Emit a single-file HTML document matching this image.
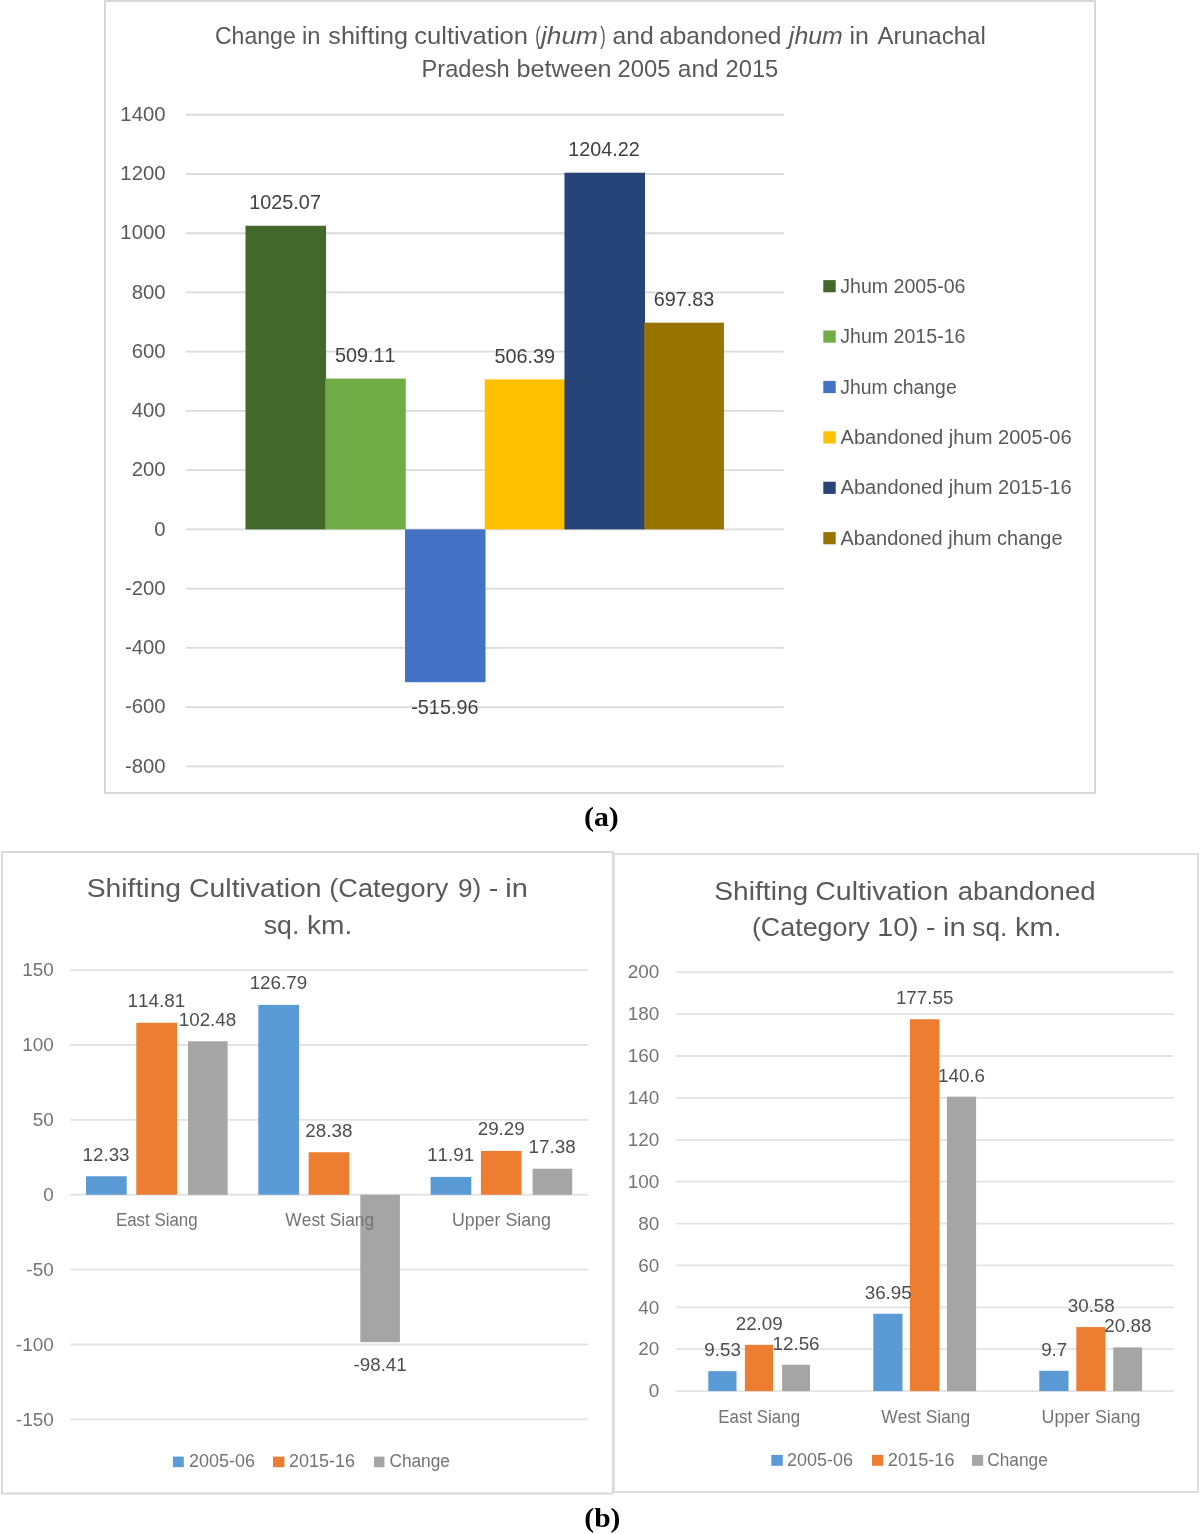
<!DOCTYPE html>
<html><head><meta charset="utf-8"><style>
html,body{margin:0;padding:0;background:#fff;}
body{width:1200px;height:1534px;overflow:hidden;}
svg{display:block;font-kerning:none;will-change:transform;-webkit-font-smoothing:antialiased;}
text{font-kerning:none;}
</style></head><body>
<svg width="1200" height="1534" viewBox="0 0 1200 1534">
<rect x="0" y="0" width="1200" height="1534" fill="#ffffff"/>
<rect x="105" y="1" width="990" height="792" fill="none" stroke="#D9D9D9" stroke-width="2"/>
<text x="214.93" y="44.30" font-size="24.2" fill="#595959" font-style="normal" font-weight="normal" font-family='"Liberation Sans", sans-serif' textLength="80.80" lengthAdjust="spacingAndGlyphs" xml:space="preserve">Change</text>
<text x="302.02" y="44.30" font-size="24.2" fill="#595959" font-style="normal" font-weight="normal" font-family='"Liberation Sans", sans-serif' textLength="18.42" lengthAdjust="spacingAndGlyphs" xml:space="preserve">in</text>
<text x="328.30" y="44.30" font-size="24.2" fill="#595959" font-style="normal" font-weight="normal" font-family='"Liberation Sans", sans-serif' textLength="79.72" lengthAdjust="spacingAndGlyphs" xml:space="preserve">shifting</text>
<text x="414.21" y="44.30" font-size="24.2" fill="#595959" font-style="normal" font-weight="normal" font-family='"Liberation Sans", sans-serif' textLength="113.85" lengthAdjust="spacingAndGlyphs" xml:space="preserve">cultivation</text>
<text x="535.27" y="44.30" font-size="24.2" fill="#595959" font-style="normal" font-weight="normal" font-family='"Liberation Sans", sans-serif' textLength="5.53" lengthAdjust="spacingAndGlyphs" xml:space="preserve">(</text>
<text x="541.04" y="44.30" font-size="24.2" fill="#595959" font-style="italic" font-weight="normal" font-family='"Liberation Sans", sans-serif' textLength="56.98" lengthAdjust="spacingAndGlyphs" xml:space="preserve">jhum</text>
<text x="600.30" y="44.30" font-size="24.2" fill="#595959" font-style="normal" font-weight="normal" font-family='"Liberation Sans", sans-serif' textLength="5.40" lengthAdjust="spacingAndGlyphs" xml:space="preserve">)</text>
<text x="612.55" y="44.30" font-size="24.2" fill="#595959" font-style="normal" font-weight="normal" font-family='"Liberation Sans", sans-serif' textLength="41.24" lengthAdjust="spacingAndGlyphs" xml:space="preserve">and</text>
<text x="659.26" y="44.30" font-size="24.2" fill="#595959" font-style="normal" font-weight="normal" font-family='"Liberation Sans", sans-serif' textLength="122.01" lengthAdjust="spacingAndGlyphs" xml:space="preserve">abandoned</text>
<text x="788.88" y="44.30" font-size="24.2" fill="#595959" font-style="italic" font-weight="normal" font-family='"Liberation Sans", sans-serif' textLength="53.97" lengthAdjust="spacingAndGlyphs" xml:space="preserve">jhum</text>
<text x="849.53" y="44.30" font-size="24.2" fill="#595959" font-style="normal" font-weight="normal" font-family='"Liberation Sans", sans-serif' textLength="19.38" lengthAdjust="spacingAndGlyphs" xml:space="preserve">in</text>
<text x="877.45" y="44.30" font-size="24.2" fill="#595959" font-style="normal" font-weight="normal" font-family='"Liberation Sans", sans-serif' textLength="108.36" lengthAdjust="spacingAndGlyphs" xml:space="preserve">Arunachal</text>
<text x="421.56" y="77.00" font-size="24.2" fill="#595959" font-style="normal" font-weight="normal" font-family='"Liberation Sans", sans-serif' textLength="88.08" lengthAdjust="spacingAndGlyphs" xml:space="preserve">Pradesh</text>
<text x="516.48" y="77.00" font-size="24.2" fill="#595959" font-style="normal" font-weight="normal" font-family='"Liberation Sans", sans-serif' textLength="95.16" lengthAdjust="spacingAndGlyphs" xml:space="preserve">between</text>
<text x="617.60" y="77.00" font-size="24.2" fill="#595959" font-style="normal" font-weight="normal" font-family='"Liberation Sans", sans-serif' textLength="53.00" lengthAdjust="spacingAndGlyphs" xml:space="preserve">2005</text>
<text x="677.86" y="77.00" font-size="24.2" fill="#595959" font-style="normal" font-weight="normal" font-family='"Liberation Sans", sans-serif' textLength="40.82" lengthAdjust="spacingAndGlyphs" xml:space="preserve">and</text>
<text x="725.51" y="77.00" font-size="24.2" fill="#595959" font-style="normal" font-weight="normal" font-family='"Liberation Sans", sans-serif' textLength="52.79" lengthAdjust="spacingAndGlyphs" xml:space="preserve">2015</text>
<line x1="185.70" y1="114.70" x2="783.75" y2="114.70" stroke="#DBDBDB" stroke-width="1.9"/>
<text x="120.38" y="120.90" font-size="19.5" fill="#595959" font-style="normal" font-weight="normal" font-family='"Liberation Sans", sans-serif' textLength="45.12" lengthAdjust="spacingAndGlyphs" xml:space="preserve">1400</text>
<line x1="185.70" y1="173.94" x2="783.75" y2="173.94" stroke="#DBDBDB" stroke-width="1.9"/>
<text x="120.38" y="180.14" font-size="19.5" fill="#595959" font-style="normal" font-weight="normal" font-family='"Liberation Sans", sans-serif' textLength="45.12" lengthAdjust="spacingAndGlyphs" xml:space="preserve">1200</text>
<line x1="185.70" y1="233.18" x2="783.75" y2="233.18" stroke="#DBDBDB" stroke-width="1.9"/>
<text x="120.38" y="239.38" font-size="19.5" fill="#595959" font-style="normal" font-weight="normal" font-family='"Liberation Sans", sans-serif' textLength="45.12" lengthAdjust="spacingAndGlyphs" xml:space="preserve">1000</text>
<line x1="185.70" y1="292.42" x2="783.75" y2="292.42" stroke="#DBDBDB" stroke-width="1.9"/>
<text x="131.66" y="298.62" font-size="19.5" fill="#595959" font-style="normal" font-weight="normal" font-family='"Liberation Sans", sans-serif' textLength="33.84" lengthAdjust="spacingAndGlyphs" xml:space="preserve">800</text>
<line x1="185.70" y1="351.66" x2="783.75" y2="351.66" stroke="#DBDBDB" stroke-width="1.9"/>
<text x="131.66" y="357.86" font-size="19.5" fill="#595959" font-style="normal" font-weight="normal" font-family='"Liberation Sans", sans-serif' textLength="33.84" lengthAdjust="spacingAndGlyphs" xml:space="preserve">600</text>
<line x1="185.70" y1="410.90" x2="783.75" y2="410.90" stroke="#DBDBDB" stroke-width="1.9"/>
<text x="131.66" y="417.10" font-size="19.5" fill="#595959" font-style="normal" font-weight="normal" font-family='"Liberation Sans", sans-serif' textLength="33.84" lengthAdjust="spacingAndGlyphs" xml:space="preserve">400</text>
<line x1="185.70" y1="470.14" x2="783.75" y2="470.14" stroke="#DBDBDB" stroke-width="1.9"/>
<text x="131.66" y="476.34" font-size="19.5" fill="#595959" font-style="normal" font-weight="normal" font-family='"Liberation Sans", sans-serif' textLength="33.84" lengthAdjust="spacingAndGlyphs" xml:space="preserve">200</text>
<line x1="185.70" y1="529.38" x2="783.75" y2="529.38" stroke="#DBDBDB" stroke-width="1.9"/>
<text x="154.21" y="535.58" font-size="19.5" fill="#595959" font-style="normal" font-weight="normal" font-family='"Liberation Sans", sans-serif' textLength="11.28" lengthAdjust="spacingAndGlyphs" xml:space="preserve">0</text>
<line x1="185.70" y1="588.62" x2="783.75" y2="588.62" stroke="#DBDBDB" stroke-width="1.9"/>
<text x="124.90" y="594.82" font-size="19.5" fill="#595959" font-style="normal" font-weight="normal" font-family='"Liberation Sans", sans-serif' textLength="40.59" lengthAdjust="spacingAndGlyphs" xml:space="preserve">-200</text>
<line x1="185.70" y1="647.86" x2="783.75" y2="647.86" stroke="#DBDBDB" stroke-width="1.9"/>
<text x="124.90" y="654.06" font-size="19.5" fill="#595959" font-style="normal" font-weight="normal" font-family='"Liberation Sans", sans-serif' textLength="40.59" lengthAdjust="spacingAndGlyphs" xml:space="preserve">-400</text>
<line x1="185.70" y1="707.10" x2="783.75" y2="707.10" stroke="#DBDBDB" stroke-width="1.9"/>
<text x="124.90" y="713.30" font-size="19.5" fill="#595959" font-style="normal" font-weight="normal" font-family='"Liberation Sans", sans-serif' textLength="40.59" lengthAdjust="spacingAndGlyphs" xml:space="preserve">-600</text>
<line x1="185.70" y1="766.34" x2="783.75" y2="766.34" stroke="#DBDBDB" stroke-width="1.9"/>
<text x="124.90" y="772.54" font-size="19.5" fill="#595959" font-style="normal" font-weight="normal" font-family='"Liberation Sans", sans-serif' textLength="40.59" lengthAdjust="spacingAndGlyphs" xml:space="preserve">-800</text>
<rect x="245.50" y="225.75" width="80.54" height="303.63" fill="#43682B"/>
<rect x="325.25" y="378.58" width="80.54" height="150.80" fill="#70AD47"/>
<rect x="404.99" y="529.38" width="80.54" height="152.83" fill="#4472C4"/>
<rect x="484.72" y="379.39" width="80.54" height="149.99" fill="#FFC000"/>
<rect x="564.46" y="172.69" width="80.54" height="356.69" fill="#264478"/>
<rect x="644.20" y="322.68" width="79.74" height="206.70" fill="#997300"/>
<text x="249.33" y="209.25" font-size="19.8" fill="#404040" font-style="normal" font-weight="normal" font-family='"Liberation Sans", sans-serif' textLength="71.57" lengthAdjust="spacingAndGlyphs" xml:space="preserve">1025.07</text>
<text x="334.92" y="362.08" font-size="19.8" fill="#404040" font-style="normal" font-weight="normal" font-family='"Liberation Sans", sans-serif' textLength="60.56" lengthAdjust="spacingAndGlyphs" xml:space="preserve">509.11</text>
<text x="411.27" y="714.01" font-size="19.8" fill="#404040" font-style="normal" font-weight="normal" font-family='"Liberation Sans", sans-serif' textLength="67.15" lengthAdjust="spacingAndGlyphs" xml:space="preserve">-515.96</text>
<text x="494.39" y="362.89" font-size="19.8" fill="#404040" font-style="normal" font-weight="normal" font-family='"Liberation Sans", sans-serif' textLength="60.56" lengthAdjust="spacingAndGlyphs" xml:space="preserve">506.39</text>
<text x="568.29" y="156.19" font-size="19.8" fill="#404040" font-style="normal" font-weight="normal" font-family='"Liberation Sans", sans-serif' textLength="71.57" lengthAdjust="spacingAndGlyphs" xml:space="preserve">1204.22</text>
<text x="653.73" y="306.18" font-size="19.8" fill="#404040" font-style="normal" font-weight="normal" font-family='"Liberation Sans", sans-serif' textLength="60.56" lengthAdjust="spacingAndGlyphs" xml:space="preserve">697.83</text>
<rect x="823.30" y="280.10" width="12.40" height="12.20" fill="#43682B"/>
<text x="840.29" y="292.80" font-size="20.0" fill="#595959" font-style="normal" font-weight="normal" font-family='"Liberation Sans", sans-serif' textLength="125.17" lengthAdjust="spacingAndGlyphs" xml:space="preserve">Jhum 2005-06</text>
<rect x="823.30" y="330.50" width="12.40" height="12.20" fill="#70AD47"/>
<text x="840.29" y="343.20" font-size="20.0" fill="#595959" font-style="normal" font-weight="normal" font-family='"Liberation Sans", sans-serif' textLength="125.17" lengthAdjust="spacingAndGlyphs" xml:space="preserve">Jhum 2015-16</text>
<rect x="823.30" y="380.90" width="12.40" height="12.20" fill="#4472C4"/>
<text x="840.30" y="393.60" font-size="20.0" fill="#595959" font-style="normal" font-weight="normal" font-family='"Liberation Sans", sans-serif' textLength="116.36" lengthAdjust="spacingAndGlyphs" xml:space="preserve">Jhum change</text>
<rect x="823.30" y="431.30" width="12.40" height="12.20" fill="#FFC000"/>
<text x="840.56" y="444.00" font-size="20.0" fill="#595959" font-style="normal" font-weight="normal" font-family='"Liberation Sans", sans-serif' textLength="231.12" lengthAdjust="spacingAndGlyphs" xml:space="preserve">Abandoned jhum 2005-06</text>
<rect x="823.30" y="481.70" width="12.40" height="12.20" fill="#264478"/>
<text x="840.56" y="494.40" font-size="20.0" fill="#595959" font-style="normal" font-weight="normal" font-family='"Liberation Sans", sans-serif' textLength="231.12" lengthAdjust="spacingAndGlyphs" xml:space="preserve">Abandoned jhum 2015-16</text>
<rect x="823.30" y="532.10" width="12.40" height="12.20" fill="#997300"/>
<text x="840.56" y="544.80" font-size="20.0" fill="#595959" font-style="normal" font-weight="normal" font-family='"Liberation Sans", sans-serif' textLength="222.03" lengthAdjust="spacingAndGlyphs" xml:space="preserve">Abandoned jhum change</text>
<text x="583.99" y="825.60" font-size="28" fill="#000000" font-style="normal" font-weight="bold" font-family='"Liberation Serif", serif' textLength="34.83" lengthAdjust="spacingAndGlyphs" xml:space="preserve">(a)</text>
<rect x="2" y="852" width="611" height="641.5" fill="none" stroke="#D9D9D9" stroke-width="2"/>
<rect x="614" y="854" width="584" height="638" fill="none" stroke="#DEDEDE" stroke-width="2"/>
<text x="86.71" y="896.70" font-size="26.5" fill="#595959" font-style="normal" font-weight="normal" font-family='"Liberation Sans", sans-serif' textLength="94.41" lengthAdjust="spacingAndGlyphs" xml:space="preserve">Shifting</text>
<text x="189.06" y="896.70" font-size="26.5" fill="#595959" font-style="normal" font-weight="normal" font-family='"Liberation Sans", sans-serif' textLength="132.59" lengthAdjust="spacingAndGlyphs" xml:space="preserve">Cultivation</text>
<text x="329.32" y="896.70" font-size="26.5" fill="#595959" font-style="normal" font-weight="normal" font-family='"Liberation Sans", sans-serif' textLength="118.93" lengthAdjust="spacingAndGlyphs" xml:space="preserve">(Category</text>
<text x="458.07" y="896.70" font-size="26.5" fill="#595959" font-style="normal" font-weight="normal" font-family='"Liberation Sans", sans-serif' textLength="23.25" lengthAdjust="spacingAndGlyphs" xml:space="preserve">9)</text>
<text x="488.73" y="896.70" font-size="26.5" fill="#595959" font-style="normal" font-weight="normal" font-family='"Liberation Sans", sans-serif' textLength="9.55" lengthAdjust="spacingAndGlyphs" xml:space="preserve">-</text>
<text x="505.25" y="896.70" font-size="26.5" fill="#595959" font-style="normal" font-weight="normal" font-family='"Liberation Sans", sans-serif' textLength="22.63" lengthAdjust="spacingAndGlyphs" xml:space="preserve">in</text>
<text x="263.76" y="934.00" font-size="26.5" fill="#595959" font-style="normal" font-weight="normal" font-family='"Liberation Sans", sans-serif' textLength="35.58" lengthAdjust="spacingAndGlyphs" xml:space="preserve">sq.</text>
<text x="307.11" y="934.00" font-size="26.5" fill="#595959" font-style="normal" font-weight="normal" font-family='"Liberation Sans", sans-serif' textLength="45.15" lengthAdjust="spacingAndGlyphs" xml:space="preserve">km.</text>
<line x1="70.40" y1="970.10" x2="588.00" y2="970.10" stroke="#E3E3E3" stroke-width="1.8"/>
<text x="22.16" y="976.30" font-size="18.2" fill="#747474" font-style="normal" font-weight="normal" font-family='"Liberation Sans", sans-serif' textLength="31.58" lengthAdjust="spacingAndGlyphs" xml:space="preserve">150</text>
<line x1="70.40" y1="1044.98" x2="588.00" y2="1044.98" stroke="#E3E3E3" stroke-width="1.8"/>
<text x="22.16" y="1051.18" font-size="18.2" fill="#747474" font-style="normal" font-weight="normal" font-family='"Liberation Sans", sans-serif' textLength="31.58" lengthAdjust="spacingAndGlyphs" xml:space="preserve">100</text>
<line x1="70.40" y1="1119.86" x2="588.00" y2="1119.86" stroke="#E3E3E3" stroke-width="1.8"/>
<text x="32.69" y="1126.06" font-size="18.2" fill="#747474" font-style="normal" font-weight="normal" font-family='"Liberation Sans", sans-serif' textLength="21.05" lengthAdjust="spacingAndGlyphs" xml:space="preserve">50</text>
<line x1="70.40" y1="1194.74" x2="588.00" y2="1194.74" stroke="#E3E3E3" stroke-width="1.8"/>
<text x="43.21" y="1200.94" font-size="18.2" fill="#747474" font-style="normal" font-weight="normal" font-family='"Liberation Sans", sans-serif' textLength="10.53" lengthAdjust="spacingAndGlyphs" xml:space="preserve">0</text>
<line x1="70.40" y1="1269.62" x2="588.00" y2="1269.62" stroke="#E3E3E3" stroke-width="1.8"/>
<text x="26.38" y="1275.82" font-size="18.2" fill="#747474" font-style="normal" font-weight="normal" font-family='"Liberation Sans", sans-serif' textLength="27.36" lengthAdjust="spacingAndGlyphs" xml:space="preserve">-50</text>
<line x1="70.40" y1="1344.50" x2="588.00" y2="1344.50" stroke="#E3E3E3" stroke-width="1.8"/>
<text x="15.86" y="1350.70" font-size="18.2" fill="#747474" font-style="normal" font-weight="normal" font-family='"Liberation Sans", sans-serif' textLength="37.88" lengthAdjust="spacingAndGlyphs" xml:space="preserve">-100</text>
<line x1="70.40" y1="1419.38" x2="588.00" y2="1419.38" stroke="#E3E3E3" stroke-width="1.8"/>
<text x="15.86" y="1425.58" font-size="18.2" fill="#747474" font-style="normal" font-weight="normal" font-family='"Liberation Sans", sans-serif' textLength="37.88" lengthAdjust="spacingAndGlyphs" xml:space="preserve">-150</text>
<rect x="86.00" y="1176.27" width="40.70" height="18.47" fill="#5B9BD5"/>
<rect x="136.30" y="1022.80" width="40.70" height="171.94" fill="#ED7D31"/>
<rect x="188.00" y="1041.27" width="39.60" height="153.47" fill="#A5A5A5"/>
<rect x="258.30" y="1004.86" width="40.70" height="189.88" fill="#5B9BD5"/>
<rect x="308.60" y="1152.24" width="40.70" height="42.50" fill="#ED7D31"/>
<rect x="360.30" y="1194.74" width="39.60" height="147.38" fill="#A5A5A5"/>
<rect x="430.60" y="1176.90" width="40.70" height="17.84" fill="#5B9BD5"/>
<rect x="480.90" y="1150.88" width="40.70" height="43.86" fill="#ED7D31"/>
<rect x="532.60" y="1168.71" width="39.60" height="26.03" fill="#A5A5A5"/>
<text x="115.91" y="1225.80" font-size="18.0" fill="#747474" font-style="normal" font-weight="normal" font-family='"Liberation Sans", sans-serif' textLength="81.78" lengthAdjust="spacingAndGlyphs" xml:space="preserve">East Siang</text>
<text x="285.37" y="1225.80" font-size="18.0" fill="#747474" font-style="normal" font-weight="normal" font-family='"Liberation Sans", sans-serif' textLength="88.80" lengthAdjust="spacingAndGlyphs" xml:space="preserve">West Siang</text>
<text x="451.93" y="1225.80" font-size="18.0" fill="#747474" font-style="normal" font-weight="normal" font-family='"Liberation Sans", sans-serif' textLength="99.02" lengthAdjust="spacingAndGlyphs" xml:space="preserve">Upper Siang</text>
<text x="82.52" y="1160.77" font-size="18.8" fill="#4D4D4D" font-style="normal" font-weight="normal" font-family='"Liberation Sans", sans-serif' textLength="47.05" lengthAdjust="spacingAndGlyphs" xml:space="preserve">12.33</text>
<text x="127.64" y="1007.30" font-size="18.8" fill="#4D4D4D" font-style="normal" font-weight="normal" font-family='"Liberation Sans", sans-serif' textLength="57.50" lengthAdjust="spacingAndGlyphs" xml:space="preserve">114.81</text>
<text x="178.74" y="1025.77" font-size="18.8" fill="#4D4D4D" font-style="normal" font-weight="normal" font-family='"Liberation Sans", sans-serif' textLength="57.50" lengthAdjust="spacingAndGlyphs" xml:space="preserve">102.48</text>
<text x="249.63" y="989.36" font-size="18.8" fill="#4D4D4D" font-style="normal" font-weight="normal" font-family='"Liberation Sans", sans-serif' textLength="57.50" lengthAdjust="spacingAndGlyphs" xml:space="preserve">126.79</text>
<text x="305.36" y="1136.74" font-size="18.8" fill="#4D4D4D" font-style="normal" font-weight="normal" font-family='"Liberation Sans", sans-serif' textLength="47.05" lengthAdjust="spacingAndGlyphs" xml:space="preserve">28.38</text>
<text x="353.49" y="1370.92" font-size="18.8" fill="#4D4D4D" font-style="normal" font-weight="normal" font-family='"Liberation Sans", sans-serif' textLength="53.31" lengthAdjust="spacingAndGlyphs" xml:space="preserve">-98.41</text>
<text x="427.17" y="1161.40" font-size="18.8" fill="#4D4D4D" font-style="normal" font-weight="normal" font-family='"Liberation Sans", sans-serif' textLength="47.05" lengthAdjust="spacingAndGlyphs" xml:space="preserve">11.91</text>
<text x="477.70" y="1135.38" font-size="18.8" fill="#4D4D4D" font-style="normal" font-weight="normal" font-family='"Liberation Sans", sans-serif' textLength="47.05" lengthAdjust="spacingAndGlyphs" xml:space="preserve">29.29</text>
<text x="528.57" y="1153.21" font-size="18.8" fill="#4D4D4D" font-style="normal" font-weight="normal" font-family='"Liberation Sans", sans-serif' textLength="47.05" lengthAdjust="spacingAndGlyphs" xml:space="preserve">17.38</text>
<rect x="172.90" y="1456.60" width="10.90" height="10.60" fill="#5B9BD5"/>
<text x="189.10" y="1467.00" font-size="18.0" fill="#747474" font-style="normal" font-weight="normal" font-family='"Liberation Sans", sans-serif' textLength="65.99" lengthAdjust="spacingAndGlyphs" xml:space="preserve">2005-06</text>
<rect x="273.00" y="1456.60" width="11.40" height="10.60" fill="#ED7D31"/>
<text x="289.10" y="1467.00" font-size="18.0" fill="#747474" font-style="normal" font-weight="normal" font-family='"Liberation Sans", sans-serif' textLength="65.89" lengthAdjust="spacingAndGlyphs" xml:space="preserve">2015-16</text>
<rect x="374.00" y="1456.60" width="10.40" height="10.60" fill="#A5A5A5"/>
<text x="389.42" y="1467.00" font-size="18.0" fill="#747474" font-style="normal" font-weight="normal" font-family='"Liberation Sans", sans-serif' textLength="60.55" lengthAdjust="spacingAndGlyphs" xml:space="preserve">Change</text>
<text x="714.32" y="899.70" font-size="26.5" fill="#595959" font-style="normal" font-weight="normal" font-family='"Liberation Sans", sans-serif' textLength="93.89" lengthAdjust="spacingAndGlyphs" xml:space="preserve">Shifting</text>
<text x="815.15" y="899.70" font-size="26.5" fill="#595959" font-style="normal" font-weight="normal" font-family='"Liberation Sans", sans-serif' textLength="133.51" lengthAdjust="spacingAndGlyphs" xml:space="preserve">Cultivation</text>
<text x="957.73" y="899.70" font-size="26.5" fill="#595959" font-style="normal" font-weight="normal" font-family='"Liberation Sans", sans-serif' textLength="137.84" lengthAdjust="spacingAndGlyphs" xml:space="preserve">abandoned</text>
<text x="751.94" y="936.40" font-size="26.5" fill="#595959" font-style="normal" font-weight="normal" font-family='"Liberation Sans", sans-serif' textLength="117.82" lengthAdjust="spacingAndGlyphs" xml:space="preserve">(Category</text>
<text x="877.32" y="936.40" font-size="26.5" fill="#595959" font-style="normal" font-weight="normal" font-family='"Liberation Sans", sans-serif' textLength="41.35" lengthAdjust="spacingAndGlyphs" xml:space="preserve">10)</text>
<text x="926.13" y="936.40" font-size="26.5" fill="#595959" font-style="normal" font-weight="normal" font-family='"Liberation Sans", sans-serif' textLength="9.55" lengthAdjust="spacingAndGlyphs" xml:space="preserve">-</text>
<text x="942.93" y="936.40" font-size="26.5" fill="#595959" font-style="normal" font-weight="normal" font-family='"Liberation Sans", sans-serif' textLength="22.87" lengthAdjust="spacingAndGlyphs" xml:space="preserve">in</text>
<text x="972.37" y="936.40" font-size="26.5" fill="#595959" font-style="normal" font-weight="normal" font-family='"Liberation Sans", sans-serif' textLength="35.03" lengthAdjust="spacingAndGlyphs" xml:space="preserve">sq.</text>
<text x="1015.06" y="936.40" font-size="26.5" fill="#595959" font-style="normal" font-weight="normal" font-family='"Liberation Sans", sans-serif' textLength="46.37" lengthAdjust="spacingAndGlyphs" xml:space="preserve">km.</text>
<line x1="676.00" y1="972.25" x2="1173.70" y2="972.25" stroke="#E3E3E3" stroke-width="1.8"/>
<text x="627.66" y="978.45" font-size="18.2" fill="#747474" font-style="normal" font-weight="normal" font-family='"Liberation Sans", sans-serif' textLength="31.58" lengthAdjust="spacingAndGlyphs" xml:space="preserve">200</text>
<line x1="676.00" y1="1014.13" x2="1173.70" y2="1014.13" stroke="#E3E3E3" stroke-width="1.8"/>
<text x="627.66" y="1020.34" font-size="18.2" fill="#747474" font-style="normal" font-weight="normal" font-family='"Liberation Sans", sans-serif' textLength="31.58" lengthAdjust="spacingAndGlyphs" xml:space="preserve">180</text>
<line x1="676.00" y1="1056.02" x2="1173.70" y2="1056.02" stroke="#E3E3E3" stroke-width="1.8"/>
<text x="627.66" y="1062.22" font-size="18.2" fill="#747474" font-style="normal" font-weight="normal" font-family='"Liberation Sans", sans-serif' textLength="31.58" lengthAdjust="spacingAndGlyphs" xml:space="preserve">160</text>
<line x1="676.00" y1="1097.90" x2="1173.70" y2="1097.90" stroke="#E3E3E3" stroke-width="1.8"/>
<text x="627.66" y="1104.11" font-size="18.2" fill="#747474" font-style="normal" font-weight="normal" font-family='"Liberation Sans", sans-serif' textLength="31.58" lengthAdjust="spacingAndGlyphs" xml:space="preserve">140</text>
<line x1="676.00" y1="1139.79" x2="1173.70" y2="1139.79" stroke="#E3E3E3" stroke-width="1.8"/>
<text x="627.66" y="1145.99" font-size="18.2" fill="#747474" font-style="normal" font-weight="normal" font-family='"Liberation Sans", sans-serif' textLength="31.58" lengthAdjust="spacingAndGlyphs" xml:space="preserve">120</text>
<line x1="676.00" y1="1181.67" x2="1173.70" y2="1181.67" stroke="#E3E3E3" stroke-width="1.8"/>
<text x="627.66" y="1187.88" font-size="18.2" fill="#747474" font-style="normal" font-weight="normal" font-family='"Liberation Sans", sans-serif' textLength="31.58" lengthAdjust="spacingAndGlyphs" xml:space="preserve">100</text>
<line x1="676.00" y1="1223.56" x2="1173.70" y2="1223.56" stroke="#E3E3E3" stroke-width="1.8"/>
<text x="638.19" y="1229.76" font-size="18.2" fill="#747474" font-style="normal" font-weight="normal" font-family='"Liberation Sans", sans-serif' textLength="21.05" lengthAdjust="spacingAndGlyphs" xml:space="preserve">80</text>
<line x1="676.00" y1="1265.44" x2="1173.70" y2="1265.44" stroke="#E3E3E3" stroke-width="1.8"/>
<text x="638.19" y="1271.64" font-size="18.2" fill="#747474" font-style="normal" font-weight="normal" font-family='"Liberation Sans", sans-serif' textLength="21.05" lengthAdjust="spacingAndGlyphs" xml:space="preserve">60</text>
<line x1="676.00" y1="1307.33" x2="1173.70" y2="1307.33" stroke="#E3E3E3" stroke-width="1.8"/>
<text x="638.19" y="1313.53" font-size="18.2" fill="#747474" font-style="normal" font-weight="normal" font-family='"Liberation Sans", sans-serif' textLength="21.05" lengthAdjust="spacingAndGlyphs" xml:space="preserve">40</text>
<line x1="676.00" y1="1349.21" x2="1173.70" y2="1349.21" stroke="#E3E3E3" stroke-width="1.8"/>
<text x="638.19" y="1355.41" font-size="18.2" fill="#747474" font-style="normal" font-weight="normal" font-family='"Liberation Sans", sans-serif' textLength="21.05" lengthAdjust="spacingAndGlyphs" xml:space="preserve">20</text>
<line x1="676.00" y1="1391.10" x2="1173.70" y2="1391.10" stroke="#E3E3E3" stroke-width="1.8"/>
<text x="648.71" y="1397.30" font-size="18.2" fill="#747474" font-style="normal" font-weight="normal" font-family='"Liberation Sans", sans-serif' textLength="10.53" lengthAdjust="spacingAndGlyphs" xml:space="preserve">0</text>
<rect x="708.30" y="1371.14" width="28.20" height="19.96" fill="#5B9BD5"/>
<rect x="744.90" y="1344.84" width="28.10" height="46.26" fill="#ED7D31"/>
<rect x="782.10" y="1364.80" width="27.90" height="26.30" fill="#A5A5A5"/>
<rect x="873.30" y="1313.72" width="29.20" height="77.38" fill="#5B9BD5"/>
<rect x="909.90" y="1019.27" width="29.50" height="371.83" fill="#ED7D31"/>
<rect x="946.90" y="1096.65" width="29.20" height="294.45" fill="#A5A5A5"/>
<rect x="1039.30" y="1370.79" width="29.20" height="20.31" fill="#5B9BD5"/>
<rect x="1076.30" y="1327.06" width="29.20" height="64.04" fill="#ED7D31"/>
<rect x="1113.20" y="1347.37" width="28.90" height="43.73" fill="#A5A5A5"/>
<text x="718.31" y="1422.60" font-size="18.0" fill="#747474" font-style="normal" font-weight="normal" font-family='"Liberation Sans", sans-serif' textLength="81.78" lengthAdjust="spacingAndGlyphs" xml:space="preserve">East Siang</text>
<text x="881.37" y="1422.60" font-size="18.0" fill="#747474" font-style="normal" font-weight="normal" font-family='"Liberation Sans", sans-serif' textLength="88.80" lengthAdjust="spacingAndGlyphs" xml:space="preserve">West Siang</text>
<text x="1041.53" y="1422.60" font-size="18.0" fill="#747474" font-style="normal" font-weight="normal" font-family='"Liberation Sans", sans-serif' textLength="99.02" lengthAdjust="spacingAndGlyphs" xml:space="preserve">Upper Siang</text>
<text x="704.38" y="1356.24" font-size="18.8" fill="#4D4D4D" font-style="normal" font-weight="normal" font-family='"Liberation Sans", sans-serif' textLength="36.59" lengthAdjust="spacingAndGlyphs" xml:space="preserve">9.53</text>
<text x="735.70" y="1329.94" font-size="18.8" fill="#4D4D4D" font-style="normal" font-weight="normal" font-family='"Liberation Sans", sans-serif' textLength="47.05" lengthAdjust="spacingAndGlyphs" xml:space="preserve">22.09</text>
<text x="772.52" y="1349.90" font-size="18.8" fill="#4D4D4D" font-style="normal" font-weight="normal" font-family='"Liberation Sans", sans-serif' textLength="47.05" lengthAdjust="spacingAndGlyphs" xml:space="preserve">12.56</text>
<text x="864.71" y="1298.82" font-size="18.8" fill="#4D4D4D" font-style="normal" font-weight="normal" font-family='"Liberation Sans", sans-serif' textLength="47.05" lengthAdjust="spacingAndGlyphs" xml:space="preserve">36.95</text>
<text x="895.88" y="1004.37" font-size="18.8" fill="#4D4D4D" font-style="normal" font-weight="normal" font-family='"Liberation Sans", sans-serif' textLength="57.50" lengthAdjust="spacingAndGlyphs" xml:space="preserve">177.55</text>
<text x="937.97" y="1081.75" font-size="18.8" fill="#4D4D4D" font-style="normal" font-weight="normal" font-family='"Liberation Sans", sans-serif' textLength="47.05" lengthAdjust="spacingAndGlyphs" xml:space="preserve">140.6</text>
<text x="1041.16" y="1355.89" font-size="18.8" fill="#4D4D4D" font-style="normal" font-weight="normal" font-family='"Liberation Sans", sans-serif' textLength="26.13" lengthAdjust="spacingAndGlyphs" xml:space="preserve">9.7</text>
<text x="1067.73" y="1312.16" font-size="18.8" fill="#4D4D4D" font-style="normal" font-weight="normal" font-family='"Liberation Sans", sans-serif' textLength="47.05" lengthAdjust="spacingAndGlyphs" xml:space="preserve">30.58</text>
<text x="1104.36" y="1332.47" font-size="18.8" fill="#4D4D4D" font-style="normal" font-weight="normal" font-family='"Liberation Sans", sans-serif' textLength="47.05" lengthAdjust="spacingAndGlyphs" xml:space="preserve">20.88</text>
<rect x="771.30" y="1454.90" width="11.50" height="10.90" fill="#5B9BD5"/>
<text x="787.10" y="1465.80" font-size="18.0" fill="#747474" font-style="normal" font-weight="normal" font-family='"Liberation Sans", sans-serif' textLength="65.79" lengthAdjust="spacingAndGlyphs" xml:space="preserve">2005-06</text>
<rect x="872.00" y="1454.90" width="11.20" height="10.90" fill="#ED7D31"/>
<text x="887.89" y="1465.80" font-size="18.0" fill="#747474" font-style="normal" font-weight="normal" font-family='"Liberation Sans", sans-serif' textLength="66.61" lengthAdjust="spacingAndGlyphs" xml:space="preserve">2015-16</text>
<rect x="972.00" y="1454.90" width="11.20" height="10.90" fill="#A5A5A5"/>
<text x="987.32" y="1465.80" font-size="18.0" fill="#747474" font-style="normal" font-weight="normal" font-family='"Liberation Sans", sans-serif' textLength="60.44" lengthAdjust="spacingAndGlyphs" xml:space="preserve">Change</text>
<text x="584.30" y="1527.40" font-size="28" fill="#000000" font-style="normal" font-weight="bold" font-family='"Liberation Serif", serif' textLength="36.20" lengthAdjust="spacingAndGlyphs" xml:space="preserve">(b)</text>
</svg>
</body></html>
